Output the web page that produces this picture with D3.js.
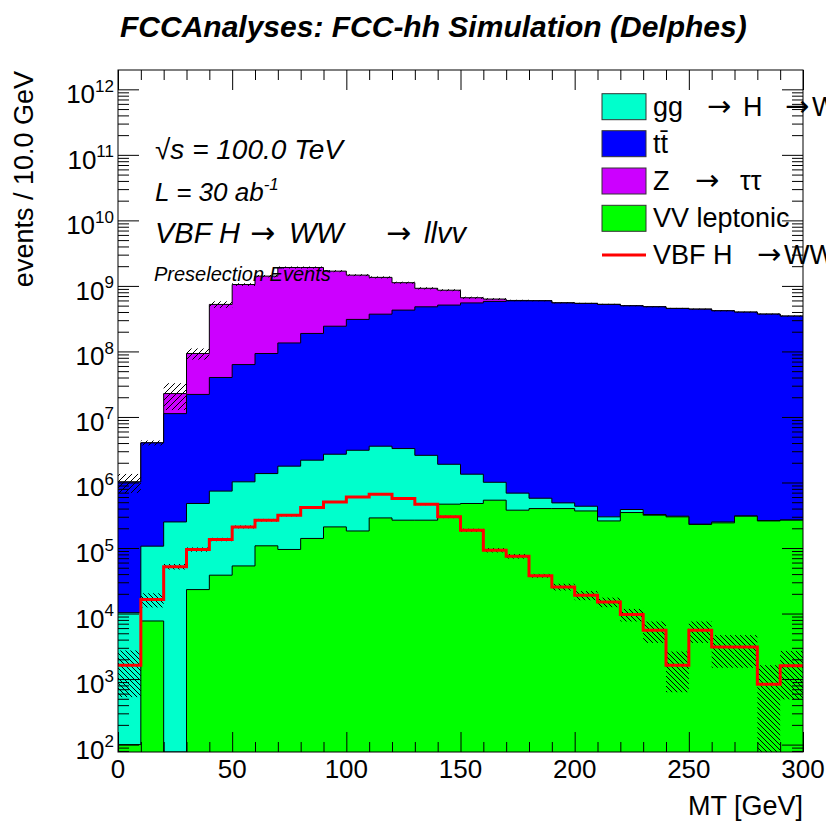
<!DOCTYPE html>
<html>
<head>
<meta charset="utf-8">
<script src="https://cdn.jsdelivr.net/npm/d3@7"></script>
<style>
body { margin: 0; background: #fff; }
text { font-family: "Liberation Sans", Arial, Helvetica, sans-serif; fill: #000; }
.arrow { font-family: "DejaVu Sans", sans-serif; font-style: normal; }
</style>
</head>
<body>
<div id="chart"></div>
<script>
// MT bins, 10 GeV wide
var binLow = [0, 10, 20, 30, 40, 50, 60, 70, 80, 90, 100, 110, 120, 130, 140,
              150, 160, 170, 180, 190, 200, 210, 220, 230, 240, 250, 260, 270, 280, 290];
var binWidth = 10;

// events per bin, per process
var vvLeptonic = [100, 7700, 0, 23200, 38500, 53300, 108000, 95000, 140000, 210000,
                  182000, 288000, 266000, 266000, 467000, 478000, 537000, 378000, 400000, 400000,
                  368000, 259000, 348000, 317000, 299000, 229000, 242000, 306000, 259000, 266000];
var ggHWW = [10200, 99000, 250000, 455000, 700000, 970000, 1260000, 1680000, 2050000, 2490000,
             2920000, 3290000, 3030000, 2330000, 1430000, 860000, 470000, 310000, 175000, 88000,
             66000, 40000, 39000, 7000, 7000, 2000, 8000, 3000, 3000, 2000];
var ttbar = [1.01e6, 3.92e6, 1.10e7, 2.16e7, 3.93e7, 6.2e7, 9.16e7, 1.33e8, 1.86e8, 2.40e8,
             3.05e8, 3.67e8, 4.24e8, 4.77e8, 5.08e8, 5.49e8, 5.79e8, 5.92e8, 5.92e8, 5.5e8,
             5.4e8, 5.22e8, 4.97e8, 4.8e8, 4.53e8, 4.42e8, 4.17e8, 3.98e8, 3.71e8, 3.46e8];
var zTauTau = [0, 0, 1.15e7, 7.1e7, 4.82e8, 9.87e8, 1.317e9, 1.775e9, 1.722e9, 1.437e9,
               1.152e9, 9.79e8, 6.93e8, 4.4e8, 3.5e8, 1.1e8, 5.0e7, 7e6, 3e6, 2e6,
               1.5e6, 1e6, 1e6, 8e5, 6e5, 5e5, 4e5, 3e5, 3e5, 2e5];
var vbfSignal = [1630, 16400, 52000, 95000, 135000, 210000, 266000, 317000, 415000, 506000,
                 603000, 663000, 570000, 467000, 299000, 187000, 92700, 75000, 37800, 25500,
                 19000, 15000, 9660, 5560, 1630, 5560, 3090, 3090, 830, 1590];

// uncertainties (hatched bands)
var stackErr = [3.3e5, 3.5e5, 1.0e7, 1.8e7, 6e7, 5e7, 6e7, 7e7, 7e7, 6e7,
                5e7, 5e7, 4e7, 3.5e7, 3e7, 2.5e7, 2e7, 1.5e7, 1.2e7, 1.1e7,
                1e7, 1e7, 9e6, 9e6, 8e6, 8e6, 8e6, 7e6, 7e6, 7e6];
var signalErr = [1100, 4000, 5000, 7000, 8000, 11000, 12000, 13000, 15000, 16000,
                 18000, 19000, 18000, 16000, 13000, 10000, 7000, 6000, 2500, 3000,
                 3000, 2500, 2100, 2000, 1000, 2000, 1600, 1600, 800, 1100];

var processKeys = ["vv", "ggh", "tt", "ztt"];
var processColors = {vv: "#00ff00", ggh: "#00ffcc", tt: "#0000ff", ztt: "#cc00ff"};
var xTickValues = [0, 50, 100, 150, 200, 250, 300];
var yExponents = [2, 3, 4, 5, 6, 7, 8, 9, 10, 11, 12];

var W = 826, H = 824;
var fLeft = 118, fRight = 803, fTop = 70, fBottom = 752;

var svg = d3.select("#chart").append("svg")
    .attr("width", W)
    .attr("height", H);

var x = d3.scaleLinear().domain([0, 300]).range([fLeft, fRight]);
var yMin = Math.pow(10, 1.887), yMax = Math.pow(10, 12.295);
var y = d3.scaleLog().domain([yMin, yMax]).range([fBottom, fTop]).clamp(true);

var defs = svg.append("defs");
defs.append("clipPath").attr("id", "frame")
    .append("rect").attr("x", fLeft).attr("y", fTop)
    .attr("width", fRight - fLeft).attr("height", fBottom - fTop);

// ROOT-like hatch patterns
var p1 = defs.append("pattern").attr("id", "hatchFwd")
    .attr("patternUnits", "userSpaceOnUse").attr("width", 6).attr("height", 6);
p1.append("path").attr("d", "M0,6 L6,0 M-1.5,1.5 L1.5,-1.5 M4.5,7.5 L7.5,4.5")
    .attr("stroke", "#000").attr("stroke-width", 1);
var p2 = defs.append("pattern").attr("id", "hatchBack")
    .attr("patternUnits", "userSpaceOnUse").attr("width", 5).attr("height", 5);
p2.append("path").attr("d", "M0,0 L5,5 M-1.25,3.75 L1.25,6.25 M3.75,-1.25 L6.25,1.25")
    .attr("stroke", "#000").attr("stroke-width", 1);

var rows = binLow.map(function (b, i) {
    return {low: b, vv: vvLeptonic[i], ggh: ggHWW[i], tt: ttbar[i], ztt: zTauTau[i]};
});
var layers = d3.stack().keys(processKeys)(rows);

function stepPoints(vals) {
    var pts = vals.map(function (v, i) { return [binLow[i], v]; });
    pts.push([binLow[binLow.length - 1] + binWidth, vals[vals.length - 1]]);
    return pts;
}

var area = d3.area()
    .curve(d3.curveStepAfter)
    .x(function (d) { return x(d[0]); })
    .y0(fBottom)
    .y1(function (d) { return y(Math.max(d[1], yMin)); });
var line = d3.line()
    .curve(d3.curveStepAfter)
    .x(function (d) { return x(d[0]); })
    .y(function (d) { return y(Math.max(d[1], yMin)); });

var plot = svg.append("g").attr("clip-path", "url(#frame)");

// THStack: top histogram drawn first, each filled down to the axis
layers.slice().reverse().forEach(function (layer) {
    var tops = layer.map(function (d) { return d[1]; });
    var pts = stepPoints(tops);
    plot.append("path")
        .attr("d", area(pts))
        .attr("fill", processColors[layer.key]);
    plot.append("path")
        .attr("d", line(pts))
        .attr("fill", "none")
        .attr("stroke", "#000")
        .attr("stroke-width", 1);
});

// stack uncertainty
var totals = layers[layers.length - 1].map(function (d) { return d[1]; });
plot.selectAll(".stackErr")
    .data(totals)
    .enter().append("rect")
    .attr("class", "stackErr")
    .attr("x", function (d, i) { return x(binLow[i]); })
    .attr("width", function (d, i) { return x(binLow[i] + binWidth) - x(binLow[i]); })
    .attr("y", function (d, i) { return y(d + stackErr[i]); })
    .attr("height", function (d, i) { return y(Math.max(d - stackErr[i], yMin)) - y(d + stackErr[i]); })
    .attr("fill", "url(#hatchFwd)");

// signal uncertainty
plot.selectAll(".sigErr")
    .data(vbfSignal)
    .enter().append("rect")
    .attr("class", "sigErr")
    .attr("x", function (d, i) { return x(binLow[i]); })
    .attr("width", function (d, i) { return x(binLow[i] + binWidth) - x(binLow[i]); })
    .attr("y", function (d, i) { return y(d + signalErr[i]); })
    .attr("height", function (d, i) { return y(Math.max(d - signalErr[i], yMin)) - y(d + signalErr[i]); })
    .attr("fill", "url(#hatchBack)");

// signal line
plot.append("path")
    .attr("d", line(stepPoints(vbfSignal)))
    .attr("fill", "none")
    .attr("stroke", "#ff0000")
    .attr("stroke-width", 3);

// axes (ticks pointing inward, on all four sides)
var xMinor = xTickValues.slice(0, -1).reduce(function (acc, t) {
    return acc.concat([t + 10, t + 20, t + 30, t + 40]);
}, []);
var yMinor = [];
yExponents.concat([1]).forEach(function (e) {
    for (var k = 2; k <= 9; k++) {
        var v = k * Math.pow(10, e);
        if (v > yMin && v < yMax) yMinor.push(v);
    }
});
var yMajor = yExponents.map(function (e) { return Math.pow(10, e); });

function styleAxis(g) {
    g.select(".domain").remove();
    g.selectAll("line").attr("stroke", "#000").attr("stroke-width", 1);
    g.selectAll("text").remove();
}

svg.append("g").attr("transform", "translate(0," + fBottom + ")")
    .call(d3.axisBottom(x).tickValues(xTickValues).tickSize(-20)).call(styleAxis);
svg.append("g").attr("transform", "translate(0," + fBottom + ")")
    .call(d3.axisBottom(x).tickValues(xMinor).tickSize(-10)).call(styleAxis);
svg.append("g").attr("transform", "translate(0," + fTop + ")")
    .call(d3.axisTop(x).tickValues(xTickValues).tickSize(-20)).call(styleAxis);
svg.append("g").attr("transform", "translate(0," + fTop + ")")
    .call(d3.axisTop(x).tickValues(xMinor).tickSize(-10)).call(styleAxis);

svg.append("g").attr("transform", "translate(" + fLeft + ",0)")
    .call(d3.axisLeft(y).tickValues(yMajor).tickSize(-21)).call(styleAxis);
svg.append("g").attr("transform", "translate(" + fLeft + ",0)")
    .call(d3.axisLeft(y).tickValues(yMinor).tickSize(-11)).call(styleAxis);
svg.append("g").attr("transform", "translate(" + fRight + ",0)")
    .call(d3.axisRight(y).tickValues(yMajor).tickSize(-21)).call(styleAxis);
svg.append("g").attr("transform", "translate(" + fRight + ",0)")
    .call(d3.axisRight(y).tickValues(yMinor).tickSize(-11)).call(styleAxis);

// frame
svg.append("rect")
    .attr("x", fLeft).attr("y", fTop)
    .attr("width", fRight - fLeft).attr("height", fBottom - fTop)
    .attr("fill", "none").attr("stroke", "#000").attr("stroke-width", 1);

// tick labels
svg.selectAll(".xlab")
    .data(xTickValues)
    .enter().append("text")
    .attr("class", "xlab")
    .attr("x", function (d) { return x(d); })
    .attr("y", 778)
    .attr("text-anchor", "middle")
    .style("font-size", "26px")
    .text(function (d) { return d; });

var ylab = svg.selectAll(".ylab")
    .data(yExponents)
    .enter().append("text")
    .attr("class", "ylab")
    .attr("x", 114)
    .attr("y", function (d) { return y(Math.pow(10, d)) + 14; })
    .attr("text-anchor", "end")
    .style("font-size", "26px");
ylab.append("tspan").text("10");
ylab.append("tspan").attr("dy", -11.5).style("font-size", "17px").text(function (d) { return d; });

// axis titles
svg.append("text")
    .attr("x", fRight).attr("y", 815)
    .attr("text-anchor", "end")
    .style("font-size", "27px")
    .text("MT [GeV]");
svg.append("text")
    .attr("transform", "translate(33,71) rotate(-90)")
    .attr("text-anchor", "end")
    .style("font-size", "27px")
    .text("events / 10.0 GeV");

// title
svg.append("text")
    .attr("x", 120).attr("y", 37)
    .style("font-size", "30px")
    .style("font-weight", "bold")
    .style("font-style", "italic")
    .text("FCCAnalyses: FCC-hh Simulation (Delphes)");

// labels inside the frame
var info = svg.append("g").style("font-style", "italic");
info.append("text").attr("x", 155).attr("y", 159).style("font-size", "28px")
    .text("\u221As = 100.0 TeV");
var lumi = info.append("text").attr("x", 155).attr("y", 201).style("font-size", "26px");
lumi.append("tspan").text("L = 30 ab");
lumi.append("tspan").attr("dy", -11).style("font-size", "17px").text("-1");
var proc = info.append("text").attr("y", 243).style("font-size", "29px");
proc.append("tspan").attr("x", 155).text("VBF H");
proc.append("tspan").attr("x", 250).attr("class", "arrow").style("font-size", "30px").text("\u2192");
proc.append("tspan").attr("x", 289).text("WW");
proc.append("tspan").attr("x", 386).attr("class", "arrow").style("font-size", "30px").text("\u2192");
proc.append("tspan").attr("x", 424).text("llvv");
info.append("text").attr("x", 154).attr("y", 281).style("font-size", "20px")
    .text("Preselection Events");

// legend
var legendRows = [
    {key: "ggh", parts: [[653, "gg"], [707, "\u2192", 1], [743, "H"], [785, "\u2192", 1], [812, "WW"]]},
    {key: "tt", parts: [[653, "tt\u0304"]]},
    {key: "ztt", parts: [[653, "Z"], [695, "\u2192", 1], [740, "\u03c4\u03c4"]]},
    {key: "vv", parts: [[653, "VV leptonic"]]},
    {key: "sig", parts: [[653, "VBF H"], [757, "\u2192", 1], [784, "WW"]]}
];
var legendY = [106.7, 143.7, 181, 218.3, 255];
var leg = svg.append("g");
legendRows.forEach(function (r, i) {
    var cy = legendY[i];
    if (r.key === "sig") {
        leg.append("line").attr("x1", 602).attr("x2", 646).attr("y1", cy).attr("y2", cy)
            .attr("stroke", "#ff0000").attr("stroke-width", 3);
    } else {
        leg.append("rect").attr("x", 602).attr("y", cy - 13).attr("width", 44).attr("height", 26)
            .attr("fill", processColors[r.key]).attr("stroke", "#333").attr("stroke-width", 1);
    }
    var t = leg.append("text").attr("y", cy + 9).style("font-size", "27px");
    r.parts.forEach(function (p) {
        var s = t.append("tspan").attr("x", p[0]).text(p[1]);
        if (p[2]) s.attr("class", "arrow").style("font-size", "29px");
    });
});
</script>
</body>
</html>
